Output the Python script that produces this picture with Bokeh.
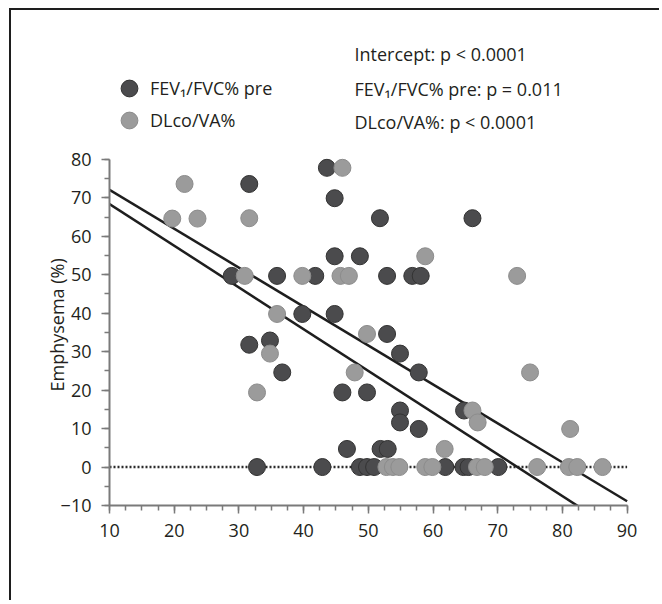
import math
from bokeh.plotting import figure
from bokeh.models import (Range1d, LinearAxis, SingleIntervalTicker, Legend,
                          LegendItem, Label, Title)
from bokeh.embed import file_html
from bokeh.resources import INLINE

# ---------------- data ----------------
fev_x = [28.9, 31.6, 31.6, 34.8, 36.7, 32.8, 42.9, 35.9, 41.8, 43.6, 44.8, 51.8,
         44.8, 48.7, 52.9, 56.8, 58.1, 39.8, 44.8, 52.9, 54.9, 57.8, 46.0, 49.8,
         54.9, 54.9, 57.8, 64.8, 46.7, 51.9, 53.0, 66.1,
         48.7, 49.8, 50.9, 61.9, 64.7, 65.5, 70.1]
fev_y = [49.7, 73.6, 31.8, 32.9, 24.6, 0.0, 0.0, 49.7, 49.7, 77.8, 69.9, 64.7,
         54.8, 54.8, 49.7, 49.7, 49.7, 39.8, 39.8, 34.6, 29.5, 24.6, 19.4, 19.4,
         14.7, 11.6, 9.9, 14.7, 4.7, 4.7, 4.7, 64.7,
         0.0, 0.0, 0.0, 0.0, 0.0, 0.0, 0.0]

dlco_x = [21.6, 19.7, 23.6, 31.6, 30.9, 39.8, 45.7, 47.0, 46.0, 58.8, 73.0, 35.9,
          49.8, 34.8, 32.8, 47.9, 75.0, 66.1, 66.9, 81.2, 61.8,
          52.8, 53.8, 54.8, 58.8, 59.9, 66.8, 68.0, 76.1, 81.0, 82.3, 86.2]
dlco_y = [73.6, 64.6, 64.6, 64.7, 49.7, 49.7, 49.7, 49.7, 77.8, 54.8, 49.7, 39.8,
          34.6, 29.5, 19.4, 24.6, 24.6, 14.7, 11.6, 9.9, 4.7,
          0.0, 0.0, 0.0, 0.0, 0.0, 0.0, 0.0, 0.0, 0.0, 0.0, 0.0]

# regression lines (end points)
line_upper_x = [10, 90]
line_upper_y = [72.1, -8.9]
line_lower_x = [10, 90]
line_lower_y = [68.4, -18.4]
zero_x = [10, 90]
zero_y = [0, 0]

legend_labels = ["FEV\u2081/FVC% pre", "DLco/VA%"]
stat_texts = ["Intercept: p < 0.0001",
              "FEV\u2081/FVC% pre: p = 0.011",
              "DLco/VA%: p < 0.0001"]
y_label = "Emphysema (%)"

# ---------------- layout ----------------
W, H = 650, 592
ML, MB = 98, 97
PX_X = 6.47   # px per x unit
PX_Y = 3.846  # px per y unit
X_END = 10 + (W - ML) / PX_X
Y_END = -10 + (H - MB) / PX_Y

FONT = "Open Sans"
TXT = "#231f20"
DARK = "#4b4b4d"
LIGHT = "#9b9b9b"

p = figure(width=W, height=H, x_range=Range1d(10, X_END), y_range=Range1d(-10, Y_END),
           output_backend="svg", toolbar_location=None,
           x_axis_type=None, y_axis_type=None,
           min_border_left=ML, min_border_right=0, min_border_top=0,
           min_border_bottom=MB)
p.outline_line_color = None
p.background_fill_color = "white"
p.border_fill_color = "white"
p.styles = {"margin-left": "9px", "margin-top": "8px",
            "border-top": "2px solid #1e1e1e", "border-left": "2px solid #1e1e1e"}

def style_axis(ax):
    ax.axis_line_color = "#7a7a7a"
    ax.axis_line_width = 2
    ax.major_tick_line_color = "#7a7a7a"
    ax.minor_tick_line_color = "#7a7a7a"
    ax.major_tick_line_width = 1.5
    ax.minor_tick_line_width = 1.5
    ax.major_tick_in = 0
    ax.major_tick_out = 8
    ax.minor_tick_in = 0
    ax.minor_tick_out = 5
    ax.major_label_text_font = FONT
    ax.major_label_text_font_size = "18px"
    ax.major_label_text_color = TXT

xaxis = LinearAxis(ticker=SingleIntervalTicker(interval=10, num_minor_ticks=4),
                   bounds=(10, 90))
style_axis(xaxis)
xaxis.major_label_standoff = 10
p.add_layout(xaxis, "below")

yaxis = LinearAxis(ticker=SingleIntervalTicker(interval=10, num_minor_ticks=2),
                   bounds=(-10, 80))
style_axis(yaxis)
yaxis.major_label_standoff = 10
p.add_layout(yaxis, "left")

# y axis title, placed along the -10..80 part of the axis
p.add_layout(Title(text=y_label, align="left", offset=114, standoff=-23,
                   vertical_align="bottom", text_font=FONT, text_font_size="18px",
                   text_font_style="normal", text_color=TXT), "left")

# reference lines
p.line(zero_x, zero_y, line_color="#2a2a2a", line_width=2.5, line_dash="2 2")
p.line(line_upper_x, line_upper_y, line_color="#1e1e1e", line_width=2.5)
p.line(line_lower_x, line_lower_y, line_color="#1e1e1e", line_width=2.5)

r_fev = p.scatter(fev_x, fev_y, size=17, fill_color=DARK, line_color="#333333",
                  line_width=1)
r_dl = p.scatter(dlco_x, dlco_y, size=17, fill_color=LIGHT, line_color="#8c8c8c",
                 line_width=1)

def make_legend(label, rend, vy):
    return Legend(items=[LegendItem(label=label, renderers=[rend])],
                  location=(-1, vy), glyph_width=42, glyph_height=42,
                  label_standoff=0, padding=0, margin=0, spacing=0,
                  border_line_color=None, background_fill_alpha=0,
                  label_text_font=FONT, label_text_font_size="18px",
                  label_text_color=TXT)

p.add_layout(make_legend(legend_labels[0], r_fev, 396))
p.add_layout(make_legend(legend_labels[1], r_dl, 364))

# text placement: page px converted to data units
def dx(px):
    return 10 + (px - 109) / PX_X

def dy(py):
    return -10 + (505 - py) / PX_Y

for t, mid in zip(stat_texts, [53.5, 88.0, 121.3]):
    p.add_layout(Label(x=dx(354), y=dy(mid), text=t, text_font=FONT,
                       text_font_size="18px", text_color=TXT,
                       text_baseline="middle", text_align="left"))

open("out.html", "w").write(file_html(p, INLINE))
